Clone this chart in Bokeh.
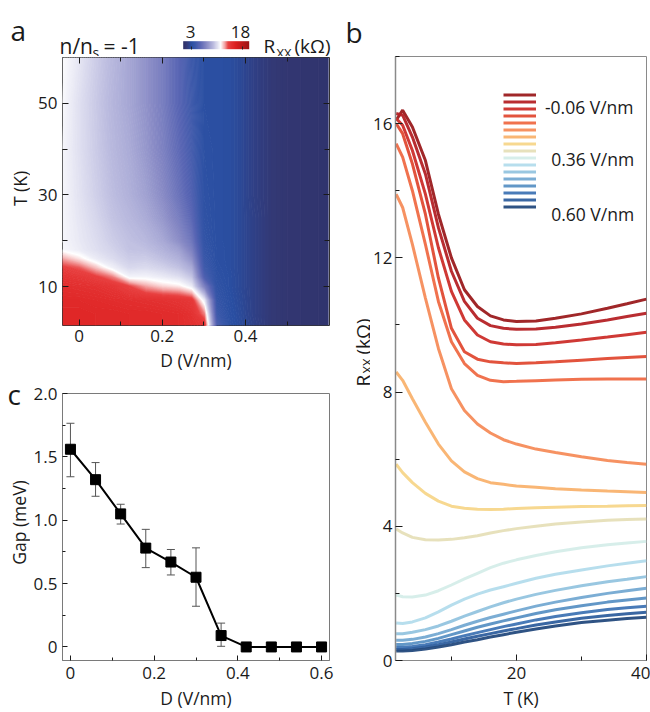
import numpy as np
from bokeh.plotting import figure
from bokeh.layouts import row, column
from bokeh.models import (Range1d, FixedTicker, LinearAxis, Label, ColumnDataSource, Whisker,
                          TeeHead, LinearColorMapper, ColorBar, Legend, LegendItem)
from bokeh.core.properties import value
from bokeh.embed import file_html
from bokeh.resources import INLINE

FONT = "Open Sans"
INK = "#1a1a1a"

# ---------------- panel a : R_xx(D, T) map, kOhm ----------------
D_map = [-0.04, 0.0, 0.04, 0.08, 0.12, 0.16, 0.20, 0.24, 0.27, 0.30, 0.33, 0.36, 0.39, 0.42,
         0.46, 0.50, 0.55, 0.60]
T_map = [1.5, 4, 7, 10, 12, 14, 16, 18, 20, 25, 30, 40, 50, 60]
# one list per D column, values at T_map
R_map_cols = [
    [15.5, 15.5, 15.3, 15.0, 14.6, 14.0, 12.8, 11.4, 11.3, 11.3, 11.3, 11.3, 11.4, 11.5],
    [15.5, 15.5, 15.3, 14.9, 14.4, 13.6, 12.0, 11.0, 10.9, 10.8, 10.7, 10.6, 10.6, 10.8],
    [15.4, 15.4, 15.2, 14.8, 14.0, 12.5, 11.0, 10.6, 10.5, 10.3, 10.1, 9.95, 9.9, 10.0],
    [15.4, 15.4, 15.1, 14.5, 13.2, 11.2, 10.5, 10.2, 10.0, 9.7, 9.5, 9.3, 9.2, 9.3],
    [15.3, 15.3, 15.0, 13.8, 11.3, 10.4, 10.0, 9.7, 9.6, 9.3, 9.0, 8.8, 8.6, 8.6],
    [15.3, 15.3, 14.9, 12.8, 11.3, 10.5, 10.0, 9.6, 9.3, 8.8, 8.4, 8.0, 7.8, 7.8],
    [15.2, 15.2, 14.8, 12.2, 11.0, 10.2, 9.6, 9.1, 8.7, 8.0, 7.5, 7.0, 6.8, 6.8],
    [15.1, 15.1, 14.6, 11.9, 10.6, 9.7, 9.0, 8.4, 7.6, 6.8, 6.2, 5.7, 5.4, 5.4],
    [14.9, 14.8, 14.3, 11.0, 9.8, 8.8, 7.8, 7.0, 6.4, 5.6, 5.1, 4.6, 4.3, 4.2],
    [14.5, 13.2, 11.0, 7.0, 5.0, 4.3, 4.0, 3.8, 3.6, 3.4, 3.3, 3.2, 3.1, 3.1],
    [5.0, 4.2, 3.8, 3.5, 3.3, 3.2, 3.1, 3.1, 3.05, 3.05, 3.05, 3.05, 3.05, 3.05],
    [3.3, 3.2, 3.1, 3.0, 3.0, 2.95, 2.95, 2.95, 2.95, 2.95, 2.95, 2.95, 2.95, 2.95],
    [2.75, 2.7, 2.65, 2.6, 2.6, 2.6, 2.6, 2.6, 2.6, 2.6, 2.6, 2.6, 2.6, 2.6],
    [2.2, 2.15, 2.15, 2.15, 2.15, 2.15, 2.15, 2.15, 2.15, 2.15, 2.1, 2.1, 2.1, 2.1],
    [1.6, 1.6, 1.6, 1.6, 1.6, 1.6, 1.6, 1.6, 1.6, 1.6, 1.6, 1.6, 1.6, 1.6],
    [1.3, 1.3, 1.3, 1.3, 1.3, 1.3, 1.3, 1.3, 1.3, 1.3, 1.3, 1.3, 1.3, 1.3],
    [1.15, 1.15, 1.15, 1.15, 1.15, 1.15, 1.15, 1.15, 1.15, 1.15, 1.15, 1.15, 1.15, 1.15],
    [1.05, 1.05, 1.05, 1.05, 1.05, 1.05, 1.05, 1.05, 1.05, 1.05, 1.05, 1.05, 1.05, 1.05],
]
cbar_ticks = [3, 18]

# ---------------- panel b : R_xx(T) at several D ----------------
T_curve = [1.5, 2.5, 4, 6, 8, 10, 12, 14, 16, 18, 20, 23, 26, 30, 34, 37, 40]
R_curves = [
    [16.1, 16.4, 15.9, 14.9, 13.3, 12.0, 11.05, 10.55, 10.27, 10.15, 10.1, 10.12, 10.2, 10.33, 10.5, 10.63, 10.77],
    [16.3, 16.25, 15.6, 14.5, 12.9, 11.6, 10.7, 10.2, 9.98, 9.9, 9.87, 9.88, 9.93, 10.03, 10.15, 10.25, 10.35],
    [16.15, 15.95, 15.2, 13.9, 12.3, 11.0, 10.15, 9.7, 9.5, 9.43, 9.41, 9.42, 9.47, 9.55, 9.64, 9.71, 9.78],
    [16.0, 15.7, 14.8, 13.3, 11.4, 9.9, 9.2, 8.98, 8.9, 8.87, 8.85, 8.87, 8.9, 8.95, 9.0, 9.03, 9.06],
    [15.4, 15.0, 14.0, 12.4, 10.7, 9.5, 8.85, 8.5, 8.35, 8.31, 8.32, 8.34, 8.36, 8.38, 8.39, 8.39, 8.39],
    [13.9, 13.5, 12.4, 10.8, 9.3, 8.1, 7.45, 7.05, 6.78, 6.58, 6.45, 6.3, 6.2, 6.07, 5.96, 5.9, 5.85],
    [8.6, 8.35, 7.8, 7.1, 6.45, 5.95, 5.62, 5.42, 5.3, 5.25, 5.2, 5.16, 5.12, 5.08, 5.05, 5.03, 5.01],
    [5.85, 5.6, 5.3, 4.98, 4.75, 4.6, 4.54, 4.51, 4.5, 4.51, 4.53, 4.55, 4.57, 4.59, 4.6, 4.61, 4.62],
    [3.92, 3.8, 3.67, 3.6, 3.59, 3.61, 3.66, 3.72, 3.8, 3.87, 3.93, 4.0, 4.07, 4.13, 4.18, 4.2, 4.22],
    [1.95, 1.9, 1.89, 1.95, 2.08, 2.25, 2.43, 2.6, 2.77, 2.9, 3.0, 3.13, 3.24, 3.36, 3.45, 3.5, 3.55],
    [1.12, 1.1, 1.15, 1.27, 1.45, 1.65, 1.83, 1.98, 2.1, 2.2, 2.3, 2.45, 2.57, 2.7, 2.82, 2.9, 2.97],
    [0.8, 0.8, 0.84, 0.92, 1.03, 1.17, 1.32, 1.46, 1.6, 1.72, 1.83, 1.97, 2.09, 2.23, 2.35, 2.42, 2.5],
    [0.6, 0.6, 0.63, 0.7, 0.8, 0.92, 1.05, 1.17, 1.28, 1.38, 1.48, 1.62, 1.74, 1.88, 2.0, 2.08, 2.15],
    [0.48, 0.48, 0.51, 0.57, 0.66, 0.77, 0.88, 0.99, 1.09, 1.18, 1.27, 1.4, 1.51, 1.63, 1.74, 1.8, 1.86],
    [0.39, 0.39, 0.42, 0.47, 0.55, 0.64, 0.74, 0.83, 0.92, 1.01, 1.09, 1.21, 1.31, 1.42, 1.52, 1.57, 1.62],
    [0.33, 0.33, 0.35, 0.4, 0.47, 0.55, 0.64, 0.72, 0.8, 0.88, 0.95, 1.06, 1.15, 1.26, 1.34, 1.39, 1.44],
    [0.28, 0.28, 0.3, 0.34, 0.4, 0.47, 0.55, 0.62, 0.7, 0.77, 0.84, 0.94, 1.03, 1.13, 1.2, 1.25, 1.29],
]
curve_colors = ["#9b1b1e", "#b52226", "#cc2e2a", "#e04a33", "#ef6a45", "#f58c5a", "#f9b26e",
                "#f7d68a", "#e6dfb8", "#d5ede9", "#b3dcec", "#93c4df", "#74a9d2", "#5a91c4",
                "#3f74b4", "#2f5f9e", "#244a7d"]
legend_texts = ["-0.06 V/nm", "0.36 V/nm", "0.60 V/nm"]

# ---------------- panel c : gap vs D ----------------
D_gap = [0.0, 0.06, 0.12, 0.18, 0.24, 0.30, 0.36, 0.42, 0.48, 0.54, 0.60]
gap = [1.56, 1.32, 1.05, 0.78, 0.67, 0.55, 0.09, 0.0, 0.0, 0.0, 0.0]
D_err = [0.0, 0.06, 0.12, 0.18, 0.24, 0.30, 0.36]
gap_hi = [1.765, 1.455, 1.126, 0.928, 0.769, 0.782, 0.188]
gap_lo = [1.343, 1.189, 0.970, 0.626, 0.568, 0.321, 0.005]

# ---------------- colour scale (navy - blue - white - red) ----------------
cm_vals = [0.6, 1.5, 2.2, 3.0, 4.0, 5.5, 7.5, 9.5, 11.6, 12.6, 13.8, 16.0, 20.0]
cm_cols = ["#2e3068", "#333874", "#2f4188", "#2a4fa2", "#3a58a9", "#5a66b4", "#8a8cc6",
           "#bdbde0", "#ffffff", "#f5b5b5", "#e84040", "#dd1f1f", "#9c1414"]


def cmap(v):
    rgb = [np.interp(v, cm_vals, [int(c[k:k + 2], 16) for c in cm_cols]) for k in (1, 3, 5)]
    return "#%02x%02x%02x" % tuple(int(round(x)) for x in rgb)


def style_axis(ax, ticks, minor, overrides=None, tin=6, min_in=4, tcol=INK, size="17px",
               standoff=5):
    ax.ticker = FixedTicker(ticks=ticks, minor_ticks=minor)
    ax.major_tick_in = tin
    ax.major_tick_out = 0
    ax.minor_tick_in = min_in
    ax.minor_tick_out = 0
    ax.major_tick_line_color = tcol
    ax.minor_tick_line_color = tcol
    ax.major_label_text_font = FONT
    ax.major_label_text_font_size = size
    ax.major_label_text_color = INK
    ax.major_label_standoff = standoff
    ax.axis_label_text_font = FONT
    ax.axis_label_text_font_style = "normal"
    ax.axis_label_text_font_size = "17.5px"
    ax.axis_label_text_color = INK
    if overrides is not None:
        ax.major_label_overrides = overrides


def lab(p, text, x, y, size, align="left", angle=0.0, baseline="alphabetic"):
    p.add_layout(Label(x=x, y=y, x_units="screen", y_units="screen", text=text,
                       text_font=FONT, text_font_size=f"{size}px", text_color=INK,
                       text_align=align, text_baseline=baseline, angle=angle))


def text_strip(w, h):
    s = figure(width=w, height=h, x_range=Range1d(0, w), y_range=Range1d(0, h),
               x_axis_type=None, y_axis_type=None, output_backend="svg", toolbar_location=None,
               min_border=0, min_border_left=0, min_border_right=0, min_border_top=0,
               min_border_bottom=0)
    s.grid.visible = False
    s.outline_line_color = None
    return s


# ======================= header strip (panel letters a/b, title, colour bar) ===========
hd = text_strip(650, 56)
mapper = LinearColorMapper(palette=[cmap(v) for v in np.linspace(0.6, 20, 256)], low=0.6, high=20)
cbar = ColorBar(color_mapper=mapper, orientation="horizontal", location=(182.7, 7.3),
                width=66, height=8, padding=0, ticker=FixedTicker(ticks=cbar_ticks),
                major_label_overrides={3: "", 18: ""}, major_label_text_font_size="1px",
                label_standoff=0, major_tick_in=3, major_tick_out=0,
                major_tick_line_color="#222222", bar_line_color=None, border_line_color=None,
                background_fill_alpha=0)
hd.add_layout(cbar)
lab(hd, "a", 10, 27, 28)
lab(hd, "n/n", 59, 11, 21)
lab(hd, "s", 92, 4, 14)
lab(hd, "= -1", 103, 11, 21)
lab(hd, str(cbar_ticks[0]), 190, 25, 17, align="center")
lab(hd, str(cbar_ticks[1]), 240, 25, 17, align="center")
lab(hd, "R", 263, 11, 19)
lab(hd, "XX", 276, 4, 13)
lab(hd, "(kΩ)", 294, 11, 19)
lab(hd, "b", 345, 25, 28)

# ======================= left strip (y titles of a and c, letter c) =====================
# its frame is aligned with the frame of panel b (page y 56 .. 662)
sl = text_strip(30, 656)
lab(sl, "T (K)", 19.5, 472, 17.5, align="center", angle=np.pi / 2, baseline="middle")
lab(sl, "Gap (meV)", 18, 138, 17.5, align="center", angle=np.pi / 2, baseline="middle")
lab(sl, "c", 7, 267, 28)

# ======================= panel a =======================
pa = figure(width=310, height=318, x_range=Range1d(-0.04, 0.602), y_range=Range1d(1.5, 60),
            output_backend="svg", toolbar_location=None,
            min_border_left=30, min_border_right=10, min_border_top=1, min_border_bottom=48)
pa.grid.visible = False
pa.outline_line_color = "#333333"
pa.outline_line_width = 1

Z = np.array(R_map_cols).T
levels = list(np.round(np.arange(0.6, 20.01, 0.1), 3))
fill_cols = [cmap((levels[i] + levels[i + 1]) / 2) for i in range(len(levels) - 1)]
line_cols = [cmap(v) for v in levels]
pa.contour(x=D_map, y=T_map, z=Z, levels=levels, fill_color=fill_cols,
           line_color=line_cols, line_width=1.2)

style_axis(pa.xaxis[0], [0, 0.2, 0.4], [0.1, 0.3, 0.5], {0: "0", 0.2: "0.2", 0.4: "0.4"},
           standoff=4)
style_axis(pa.yaxis[0], [10, 30, 50], [20, 40], tin=6, min_in=5)
pa.xaxis.axis_label = "D (V/nm)"
pa.xaxis.axis_line_color = None
pa.yaxis.axis_line_color = None
pa.xaxis.axis_label_standoff = 3

top_ax = LinearAxis()
style_axis(top_ax, [0, 0.2, 0.4], [0.1, 0.3, 0.5], {0: "", 0.2: "", 0.4: ""}, standoff=0,
           size="0px")
top_ax.axis_line_color = None
pa.add_layout(top_ax, "above")
right_ax = LinearAxis()
style_axis(right_ax, [10, 30, 50], [20, 40], {10: "", 30: "", 50: ""}, min_in=5, standoff=0,
           size="0px")
right_ax.axis_line_color = None
pa.add_layout(right_ax, "right")

# ======================= panel c =======================
pc = figure(width=310, height=338, x_range=Range1d(-0.019, 0.619), y_range=Range1d(-0.107, 2.0),
            output_backend="svg", toolbar_location=None,
            min_border_left=31, min_border_right=11, min_border_top=19, min_border_bottom=50)
pc.grid.visible = False
pc.outline_line_color = "#7a7a7a"
style_axis(pc.xaxis[0], [0, 0.2, 0.4, 0.6], [0.1, 0.3, 0.5],
           {0: "0", 0.2: "0.2", 0.4: "0.4", 0.6: "0.6"}, tin=5, min_in=3, standoff=6)
style_axis(pc.yaxis[0], [0, 0.5, 1.0, 1.5, 2.0], [0.25, 0.75, 1.25, 1.75],
           {0: "0", 0.5: "0.5", 1: "1.0", 1.5: "1.5", 2: "2.0"}, tin=5, min_in=3)
pc.xaxis.axis_label = "D (V/nm)"
pc.xaxis.axis_line_color = "#7a7a7a"
pc.yaxis.axis_line_color = "#7a7a7a"
pc.xaxis.axis_label_standoff = 4

err_src = ColumnDataSource(dict(D=D_err, hi=gap_hi, lo=gap_lo))
pc.add_layout(Whisker(source=err_src, base="D", upper="hi", lower="lo", line_color="#555555",
                      line_width=1,
                      upper_head=TeeHead(size=8, line_color="#555555", line_width=1),
                      lower_head=TeeHead(size=8, line_color="#555555", line_width=1)))
pc.line(D_gap, gap, line_color="black", line_width=2)
pc.scatter(D_gap, gap, marker="square", size=10, fill_color="black", line_color="black")

# ======================= y title strip of panel b =======================
sb = text_strip(30, 656)
lab(sb, "R", 22, 274, 19, angle=np.pi / 2)
lab(sb, "XX", 26, 287, 13, angle=np.pi / 2)
lab(sb, "(kΩ)", 22, 306, 19, angle=np.pi / 2)

# ======================= panel b =======================
pb = figure(width=280, height=656, x_range=Range1d(1.4, 40), y_range=Range1d(0, 18),
            output_backend="svg", toolbar_location=None,
            min_border_left=23, min_border_right=4, min_border_top=0, min_border_bottom=50)
pb.grid.visible = False
pb.outline_line_color = "#8a8a8a"
style_axis(pb.xaxis[0], [20, 40], [10, 30], tin=6, min_in=4, standoff=6)
style_axis(pb.yaxis[0], [0, 4, 8, 12, 16], [2, 6, 10, 14, 18], tin=7, min_in=4, standoff=3)
pb.xaxis.axis_label = "T (K)"
pb.xaxis.axis_label_standoff = 4
pb.xaxis.axis_line_color = "#8a8a8a"
pb.yaxis.axis_line_color = "#8a8a8a"
pb.yaxis.axis_line_width = 1.5

rends = []
for R, col in zip(R_curves, curve_colors):
    rends.append(pb.line(T_curve, R, line_color=col, line_width=3, line_alpha=0.95))

leg = Legend(items=[LegendItem(label=value(""), renderers=[r]) for r in rends],
             location=(108.4, 450.2), orientation="vertical", glyph_width=33, glyph_height=7,
             label_height=7, label_width=0, label_standoff=0, spacing=0, padding=0, margin=0,
             border_line_color=None, background_fill_alpha=0, label_text_font_size="4px")
pb.add_layout(leg)

lab(pb, legend_texts[0], 149.4, 553.7, 17.5)
lab(pb, legend_texts[1], 155.7, 502, 17.5)
lab(pb, legend_texts[2], 155.7, 447, 17.5)

layout = column(hd, row(sl, column(pa, pc), sb, pb))
open("out.html", "w").write(file_html(layout, INLINE))
